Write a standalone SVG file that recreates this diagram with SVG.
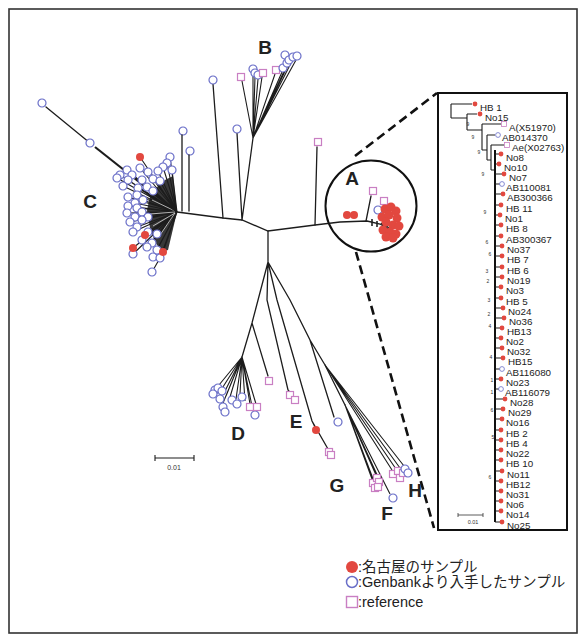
<svg xmlns="http://www.w3.org/2000/svg" xmlns:xlink="http://www.w3.org/1999/xlink" width="586" height="641" viewBox="0 0 586 641">
<style>
.ln{fill:none;stroke:#1c1c1c;stroke-width:1.3;stroke-linecap:round}
.lt{fill:none;stroke:#1c1c1c;stroke-width:1.1}
.r{fill:#e2483f}
.b{fill:#fff;stroke:#6a6fc8;stroke-width:1.2}
.p{fill:#fff;stroke:#c97fc3;stroke-width:1.2}
.bi{fill:#fff;stroke:#6a6fc8;stroke-width:.8}
.pi{fill:#fff;stroke:#c97fc3;stroke-width:.8}
.lab{font-family:"Liberation Sans",Arial,sans-serif;font-weight:bold;font-size:19px;fill:#222;text-anchor:middle}
.il{font-family:"Liberation Sans",Arial,sans-serif;font-size:9.8px;fill:#222}
.bs{font-family:"Liberation Sans",Arial,sans-serif;font-size:5px;fill:#333;text-anchor:middle}
.sc{font-family:"Liberation Sans",Arial,sans-serif;font-size:7px;fill:#333;text-anchor:middle}
.lg{font-family:"Liberation Sans","Noto Sans CJK JP",sans-serif;font-size:14.5px;fill:#222}
.dash{fill:none;stroke:#111;stroke-width:2.6;stroke-dasharray:9 5}
</style>
<defs>
<circle id="c" r="4"/>
<rect id="s" x="-3.5" y="-3.5" width="7" height="7"/>
<circle id="ci" r="2.4"/>
<rect id="si" x="-2.5" y="-2.5" width="5" height="5"/>
</defs>
<rect width="586" height="641" fill="#fff"/>
<rect id="frame" x="9" y="9" width="568" height="624" fill="none" stroke="#333" stroke-width="1.6"/>

<g id="connectors">
<path class="dash" d="M355,156 L437,93"/>
<path class="dash" d="M356,252 L434,528"/>
</g>

<g id="tree-main">
<!-- C cluster -->
<polygon points="177,212 173,176 165,180 158,186 150,197 147,210 150,228 155,242 162,252 168,250" fill="#383838"/>
<path class="lt" d="M177,212 L170,157 M177,212 L167,163 M177,212 L172,170 M177,212 L163,167 M177,212 L158,171 M177,212 L148,172 M177,212 L140,168 M177,212 L127,170 M177,212 L120,175 M177,212 L117,178 M177,212 L128,180 M177,212 L142,180 M177,212 L153,179 M177,212 L160,181 M177,212 L147,187 M177,212 L138,188 M177,212 L153,191 M177,212 L137,195 M177,212 L128,197 M177,212 L143,200 M177,212 L135,203 M177,212 L128,206 M177,212 L137,208 M177,212 L127,213 M177,212 L135,217 M177,212 L142,212 M177,212 L148,217 M177,212 L130,222 M177,212 L142,220 M177,212 L137,227 M177,212 L133,232 M177,212 L148,232 M177,212 L157,234 M177,212 L142,240 M177,212 L152,243 M177,212 L147,247 M177,212 L133,254 M177,212 L153,257 M177,212 L160,258 M177,212 L157,250 M160,258 L152,272 M177,212 L123,186 M177,212 L132,175 M177,212 L140,157 M177,212 L145,235 M177,212 L133,248 M177,212 L163,252"/>
<path d="M175,211 L152,200 M175,212 L150,214 M175,213 L153,226 M175,213 L158,238" stroke="#eee" stroke-width=".7" fill="none"/>
<path d="M177,212 L95,147" stroke="#1c1c1c" stroke-width="2.2" fill="none"/>
<path class="ln" d="M90,143 L46,107"/>
<g id="c-leaves">
<use href="#c" class="b" x="42" y="103"/><use href="#c" class="b" x="90" y="143"/>
<use href="#c" class="b" x="183" y="131"/><use href="#c" class="b" x="190" y="151"/>
<use href="#c" class="b" x="170" y="157"/><use href="#c" class="b" x="167" y="163"/><use href="#c" class="b" x="172" y="170"/><use href="#c" class="b" x="163" y="167"/><use href="#c" class="b" x="158" y="171"/><use href="#c" class="b" x="148" y="172"/><use href="#c" class="b" x="140" y="168"/><use href="#c" class="b" x="127" y="170"/><use href="#c" class="b" x="120" y="175"/><use href="#c" class="b" x="117" y="178"/><use href="#c" class="b" x="132" y="175"/><use href="#c" class="b" x="128" y="180"/><use href="#c" class="b" x="142" y="180"/><use href="#c" class="b" x="153" y="179"/><use href="#c" class="b" x="160" y="181"/><use href="#c" class="b" x="123" y="186"/><use href="#c" class="b" x="147" y="187"/><use href="#c" class="b" x="138" y="188"/><use href="#c" class="b" x="153" y="191"/><use href="#c" class="b" x="137" y="195"/><use href="#c" class="b" x="128" y="197"/><use href="#c" class="b" x="143" y="200"/><use href="#c" class="b" x="135" y="203"/><use href="#c" class="b" x="128" y="206"/><use href="#c" class="b" x="137" y="208"/><use href="#c" class="b" x="127" y="213"/><use href="#c" class="b" x="135" y="217"/><use href="#c" class="b" x="142" y="212"/><use href="#c" class="b" x="148" y="217"/><use href="#c" class="b" x="130" y="222"/><use href="#c" class="b" x="142" y="220"/><use href="#c" class="b" x="137" y="227"/><use href="#c" class="b" x="133" y="232"/><use href="#c" class="b" x="148" y="232"/><use href="#c" class="b" x="157" y="234"/><use href="#c" class="b" x="142" y="240"/><use href="#c" class="b" x="152" y="243"/><use href="#c" class="b" x="147" y="247"/><use href="#c" class="b" x="133" y="254"/><use href="#c" class="b" x="153" y="257"/><use href="#c" class="b" x="160" y="258"/><use href="#c" class="b" x="157" y="250"/><use href="#c" class="b" x="152" y="272"/>
<use href="#c" class="r" x="140" y="157"/><use href="#c" class="r" x="145" y="235"/><use href="#c" class="r" x="133" y="248"/><use href="#c" class="r" x="163" y="252"/>
</g>

<!-- backbone -->
<path class="ln" d="M177,212 L223,218 L242,220 L268,231 L315,225 L340,222 L367,221 L380,224 L392,231"/>
<path class="ln" d="M182,211 V135 M189,211 V155"/>

<!-- B -->
<path class="ln" d="M223,218 L213,84 M242,220 L237,133 M242,220 L253,138"/>
<path class="lt" d="M253,138 L242,81 M253,138 L253,74 M253,138 L255,77 M253,138 L258,79 M253,138 L262,77 M253,138 L275,74 M253,138 L282,72 M253,138 L286,67 M253,138 L289,63 M253,138 L292,61 M253,138 L296,60"/>
<g id="b-leaves">
<use href="#c" class="b" x="213" y="80"/><use href="#c" class="b" x="237" y="129"/>
<use href="#s" class="p" x="241" y="77"/>
<use href="#c" class="b" x="253" y="69"/><use href="#c" class="b" x="255" y="73"/><use href="#c" class="b" x="258" y="75"/>
<use href="#s" class="p" x="263" y="73"/><use href="#s" class="p" x="276" y="70"/>
<use href="#c" class="b" x="283" y="68"/><use href="#c" class="b" x="287" y="63"/><use href="#c" class="b" x="285" y="55"/><use href="#c" class="b" x="289" y="60"/><use href="#c" class="b" x="293" y="57"/><use href="#c" class="b" x="297" y="56"/>
</g>

<!-- A -->
<path class="ln" d="M315,225 L317,147 M366,221 L371,196"/>
<path d="M372,219 V226 M377,221 V227 M381,223 L387,229 M384,224 L394,232" stroke="#222" stroke-width="1.6" fill="none"/>
<circle cx="371" cy="206" r="45.5" fill="none" stroke="#111" stroke-width="2"/>
<g id="a-leaves">
<use href="#s" class="p" x="318" y="142"/>
<use href="#s" class="p" x="373" y="191"/>
<use href="#c" class="r" x="347" y="215"/><use href="#c" class="r" x="354" y="215"/>
<use href="#s" class="p" x="384" y="201"/>
<use href="#c" class="b" x="378" y="210"/>
<circle class="r" cx="385" cy="209" r="4.5"/><circle class="r" cx="391" cy="207" r="4.5"/><circle class="r" cx="396" cy="211" r="4.5"/><circle class="r" cx="382" cy="217" r="4.5"/><circle class="r" cx="389" cy="215" r="4.5"/><circle class="r" cx="397" cy="218" r="4.5"/><circle class="r" cx="386" cy="222" r="4.5"/><circle class="r" cx="393" cy="225" r="4.5"/><circle class="r" cx="399" cy="226" r="4.5"/><circle class="r" cx="383" cy="230" r="4.5"/><circle class="r" cx="390" cy="232" r="4.5"/><circle class="r" cx="396" cy="234" r="4.5"/><circle class="r" cx="386" cy="237" r="4.5"/><circle class="r" cx="393" cy="238" r="4.5"/>
</g>

<!-- lower: D E F G H -->
<path class="ln" d="M268,231 V262 M268,262 L252,323 L242,357 M252,323 L268,376 M268,262 L267,300 L288,390 L293,396 M268,262 L277,300 L312,421 L328,449 M312,421 L315,427 M268,262 L290,300 L310,340 L334,417 M310,340 L325,365 L345,405"/>
<path class="lt" d="M242,357 L219,385 M242,357 L221,390 M242,357 L224,393 M242,357 L226,396 M242,357 L230,397 M242,357 L236,399 M242,357 L240,394 M242,357 L245,401 M242,357 L250,404 M242,357 L256,404 M242,357 L253,411 M242,357 L223,403 M325,365 L392,470 M325,365 L396,469 M325,365 L400,468 M325,365 L404,466 M345,405 L372,479 M345,405 L376,475 M345,405 L379,479 M345,405 L375,484 M345,405 L390,494"/>
<g id="lower-leaves">
<use href="#c" class="b" x="215" y="390"/><use href="#c" class="b" x="218" y="388"/><use href="#c" class="b" x="222" y="391"/><use href="#c" class="b" x="213" y="394"/><use href="#c" class="b" x="220" y="399"/><use href="#c" class="b" x="223" y="407"/><use href="#c" class="b" x="225" y="412"/><use href="#c" class="b" x="232" y="400"/><use href="#c" class="b" x="237" y="404"/><use href="#c" class="b" x="242" y="397"/><use href="#c" class="b" x="255" y="415"/>
<use href="#s" class="p" x="250" y="407"/><use href="#s" class="p" x="257" y="407"/>
<use href="#s" class="p" x="269" y="381"/>
<use href="#s" class="p" x="290" y="395"/><use href="#s" class="p" x="295" y="400"/>
<use href="#c" class="r" x="316" y="430"/>
<use href="#s" class="p" x="329" y="452"/><use href="#s" class="p" x="331" y="455"/>
<use href="#c" class="b" x="338" y="422"/>
<use href="#s" class="p" x="373" y="483"/><use href="#s" class="p" x="377" y="478"/><use href="#s" class="p" x="379" y="482"/><use href="#s" class="p" x="375" y="488"/><use href="#s" class="p" x="378" y="487"/>
<use href="#c" class="b" x="393" y="498"/>
<use href="#s" class="p" x="393" y="474"/><use href="#s" class="p" x="398" y="471"/><use href="#s" class="p" x="400" y="478"/><use href="#s" class="p" x="403" y="473"/>
<use href="#c" class="b" x="405" y="469"/><use href="#c" class="b" x="408" y="473"/>
</g>

<!-- scale -->
<g id="scale-main">
<path class="lt" d="M155,458 H194 M155,455 V461 M194,455 V461"/>
<text class="sc" x="174" y="470">0.01</text>
</g>

<!-- labels -->
<text class="lab" x="265" y="54">B</text>
<text class="lab" x="90" y="208">C</text>
<text class="lab" x="352" y="185">A</text>
<text class="lab" x="238" y="440">D</text>
<text class="lab" x="296" y="428">E</text>
<text class="lab" x="337" y="492">G</text>
<text class="lab" x="415" y="497">H</text>
<text class="lab" x="387" y="520">F</text>
</g>

<g id="inset">
<rect x="438" y="93" width="129" height="437" fill="#fff" stroke="#111" stroke-width="2"/>
<path class="lt" d="M451,104 V118 M451,104 H472 M451,118 H467 M467,114 V130 M467,114 H477 M467,130 H482 M482,124 V150 M482,124 H501 M482,150 H487 M487,135 V160 M487,135 H495 M487,160 H491 M491,145 V170 M491,145 H504 M491,170 H495"/>
<path d="M495,150 V522" stroke="#111" stroke-width="2" fill="none"/>
<path class="lt" d="M495,154 H499 M495,164 H497 M495,174 H502 M495,184 H500 M495,194 H501 M495,205 H499 M495,215 H498 M495,225 H499 M495,236 H499 M495,246 H500 M495,256 H500 M495,267 H500 M495,277 H500 M495,287 H499 M495,298 H499 M495,308 H501 M495,318 H502 M495,328 H500 M495,338 H499 M495,348 H500 M495,358 H501 M495,369 H500 M495,379 H499 M495,389 H499 M495,399 H503 M495,409 H501 M495,419 H500 M495,430 H499 M495,440 H499 M495,450 H499 M495,460 H499 M495,471 H500 M495,481 H499 M495,491 H499 M495,501 H499 M495,511 H499 M495,522 H500"/>
<g id="inset-bootstrap">
<text class="bs" x="468" y="126">9</text><text class="bs" x="473" y="139">9</text><text class="bs" x="479" y="154">9</text><text class="bs" x="483" y="176">9</text><text class="bs" x="485" y="214">9</text>
<text class="bs" x="487" y="244">6</text><text class="bs" x="490" y="256">6</text><text class="bs" x="487" y="273">3</text><text class="bs" x="488" y="283">2</text><text class="bs" x="489" y="302">3</text><text class="bs" x="489" y="316">2</text><text class="bs" x="490" y="328">4</text><text class="bs" x="491" y="359">4</text>
<text class="bs" x="492" y="382">1</text><text class="bs" x="492" y="394">1</text><text class="bs" x="492" y="412">6</text><text class="bs" x="493" y="439">5</text><text class="bs" x="490" y="479">6</text>
</g>
<g id="inset-leaves">
<use href="#ci" class="r" x="475" y="104"/><text class="il" x="480" y="111">HB 1</text>
<use href="#ci" class="r" x="480" y="114"/><text class="il" x="485" y="121">No15</text>
<use href="#si" class="pi" x="504" y="124"/><text class="il" x="509" y="130.5">A(X51970)</text>
<use href="#ci" class="bi" x="498" y="135"/><text class="il" x="502" y="141">AB014370</text>
<use href="#si" class="pi" x="507" y="145"/><text class="il" x="512" y="151">Ae(X02763)</text>
<use href="#ci" class="r" x="501" y="154"/><text class="il" x="506" y="161">No8</text>
<use href="#ci" class="r" x="499" y="164"/><text class="il" x="504" y="171">No10</text>
<use href="#ci" class="r" x="504" y="174"/><text class="il" x="509" y="181">No7</text>
<use href="#ci" class="bi" x="502" y="184"/><text class="il" x="506" y="191">AB110081</text>
<use href="#ci" class="r" x="503" y="194"/><text class="il" x="507" y="201">AB300366</text>
<use href="#ci" class="r" x="501" y="205"/><text class="il" x="506" y="212">HB 11</text>
<use href="#ci" class="r" x="500" y="215"/><text class="il" x="505" y="222">No1</text>
<use href="#ci" class="r" x="501" y="225"/><text class="il" x="506" y="232">HB 8</text>
<use href="#ci" class="r" x="501" y="236"/><text class="il" x="506" y="243">AB300367</text>
<use href="#ci" class="r" x="502" y="246"/><text class="il" x="507" y="253">No37</text>
<use href="#ci" class="r" x="502" y="256"/><text class="il" x="507" y="263">HB 7</text>
<use href="#ci" class="r" x="502" y="267"/><text class="il" x="507" y="274">HB 6</text>
<use href="#ci" class="r" x="502" y="277"/><text class="il" x="507" y="284">No19</text>
<use href="#ci" class="r" x="501" y="287"/><text class="il" x="506" y="294">No3</text>
<use href="#ci" class="r" x="501" y="298"/><text class="il" x="506" y="305">HB 5</text>
<use href="#ci" class="r" x="503" y="308"/><text class="il" x="508" y="315">No24</text>
<use href="#ci" class="r" x="504" y="318"/><text class="il" x="509" y="325">No36</text>
<use href="#ci" class="r" x="502" y="328"/><text class="il" x="507" y="335">HB13</text>
<use href="#ci" class="r" x="501" y="338"/><text class="il" x="506" y="345">No2</text>
<use href="#ci" class="r" x="502" y="348"/><text class="il" x="507" y="355">No32</text>
<use href="#ci" class="r" x="503" y="358"/><text class="il" x="508" y="365">HB15</text>
<use href="#ci" class="bi" x="502" y="369"/><text class="il" x="506" y="376">AB116080</text>
<use href="#ci" class="r" x="501" y="379"/><text class="il" x="506" y="386">No23</text>
<use href="#ci" class="bi" x="501" y="389"/><text class="il" x="505" y="396">AB116079</text>
<use href="#ci" class="r" x="505" y="399"/><text class="il" x="510" y="406">No28</text>
<use href="#ci" class="r" x="503" y="409"/><text class="il" x="508" y="416">No29</text>
<use href="#ci" class="r" x="502" y="419"/><text class="il" x="506" y="426">No16</text>
<use href="#ci" class="r" x="501" y="430"/><text class="il" x="506" y="437">HB 2</text>
<use href="#ci" class="r" x="501" y="440"/><text class="il" x="506" y="447">HB 4</text>
<use href="#ci" class="r" x="501" y="450"/><text class="il" x="506" y="457">No22</text>
<use href="#ci" class="r" x="501" y="460"/><text class="il" x="506" y="467">HB 10</text>
<use href="#ci" class="r" x="502" y="471"/><text class="il" x="507" y="478">No11</text>
<use href="#ci" class="r" x="501" y="481"/><text class="il" x="506" y="488">HB12</text>
<use href="#ci" class="r" x="501" y="491"/><text class="il" x="506" y="498">No31</text>
<use href="#ci" class="r" x="501" y="501"/><text class="il" x="506" y="508">No6</text>
<use href="#ci" class="r" x="501" y="511"/><text class="il" x="506" y="518">No14</text>
<use href="#ci" class="r" x="502" y="522"/><text class="il" x="507" y="529">No25</text>
</g>
<g id="scale-inset">
<path d="M458,515 H483 M458,513 V517 M483,513 V517" stroke="#333" stroke-width=".8" fill="none"/>
<text x="473" y="524" font-family="Liberation Sans,Arial,sans-serif" font-size="5.5" fill="#333" text-anchor="middle">0.01</text>
</g>
</g>

<g id="legend">
<circle cx="352" cy="567" r="6" class="r"/>
<text class="lg" x="358" y="572">:名古屋のサンプル</text>
<circle cx="352" cy="582" r="5.5" fill="#fff" stroke="#6a6fc8" stroke-width="1.5"/>
<text class="lg" x="358" y="587">:Genbankより入手したサンプル</text>
<rect x="346.5" y="596.5" width="11" height="11" fill="#fff" stroke="#c97fc3" stroke-width="1.4"/>
<text class="lg" x="358" y="607">:reference</text>
</g>
</svg>
